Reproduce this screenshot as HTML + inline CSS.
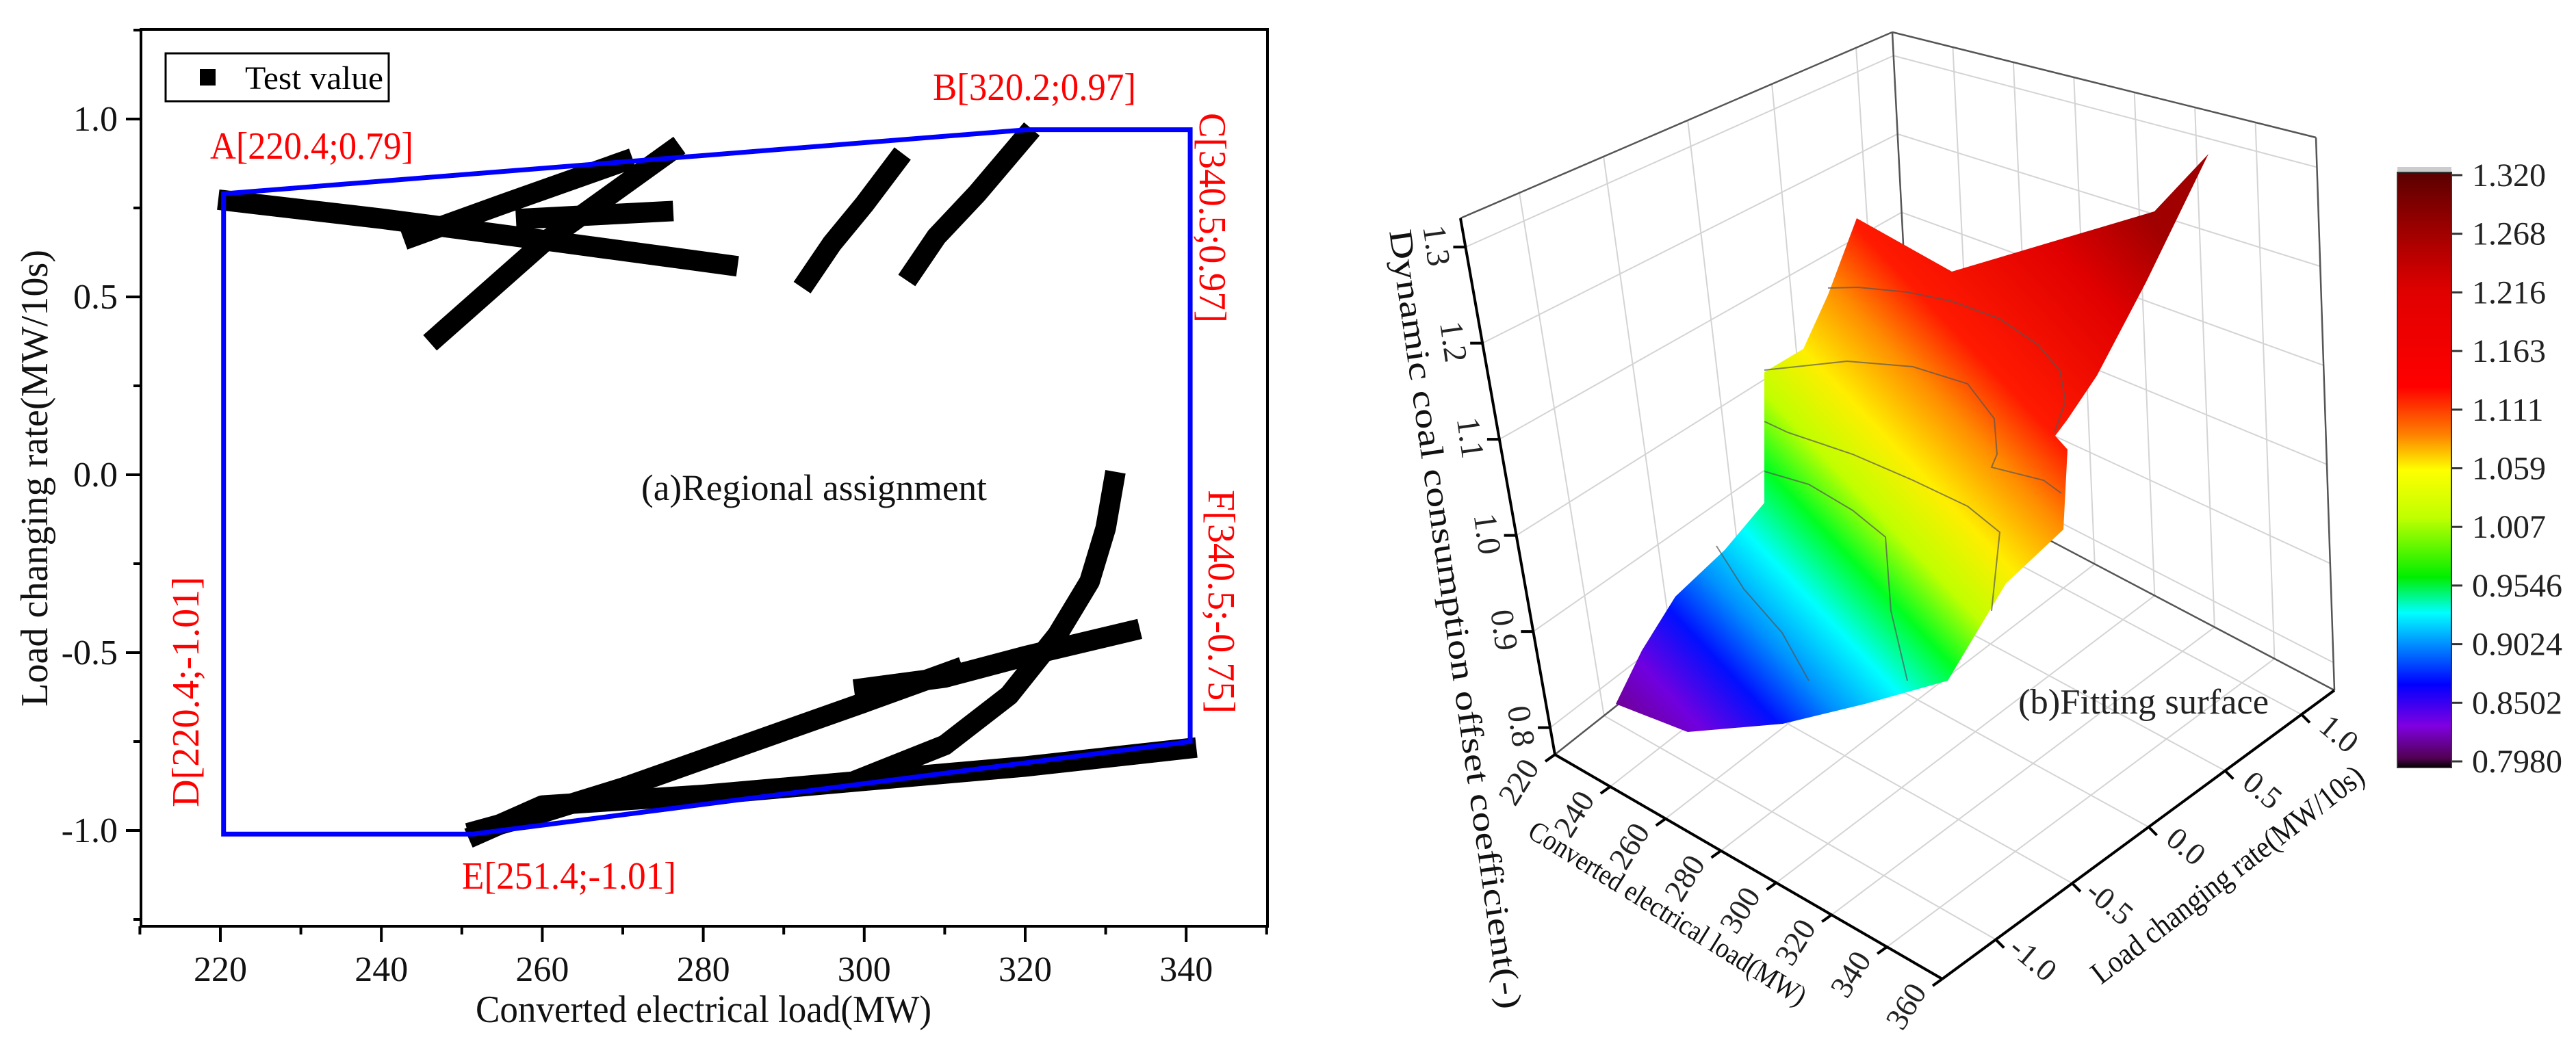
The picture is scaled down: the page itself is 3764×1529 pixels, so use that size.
<!DOCTYPE html>
<html><head><meta charset="utf-8"><style>
html,body{margin:0;padding:0;background:#fff;}
svg{display:block;font-family:"Liberation Serif","DejaVu Serif",serif;}
text{font-family:"Liberation Serif","DejaVu Serif",serif;}
</style></head><body>
<svg id="fig" xmlns="http://www.w3.org/2000/svg" width="3764" height="1529" viewBox="0 0 3764 1529">
<defs>
<linearGradient id="cbar" x1="0" y1="0" x2="0" y2="1">
<stop offset="0" stop-color="#5a0000"/><stop offset="0.1" stop-color="#a00000"/><stop offset="0.2" stop-color="#e00000"/>
<stop offset="0.36" stop-color="#ff0000"/><stop offset="0.44" stop-color="#ff8000"/><stop offset="0.5" stop-color="#ffff00"/>
<stop offset="0.58" stop-color="#c0ff00"/><stop offset="0.68" stop-color="#00ee00"/><stop offset="0.74" stop-color="#00ffff"/>
<stop offset="0.86" stop-color="#0000ff"/><stop offset="0.93" stop-color="#8000e0"/><stop offset="0.985" stop-color="#500050"/><stop offset="1" stop-color="#000"/>
</linearGradient>
<linearGradient id="surf" gradientUnits="userSpaceOnUse" x1="3150" y1="330" x2="2380" y2="1060">
<stop offset="0" stop-color="#a00000"/><stop offset="0.12" stop-color="#e00000"/><stop offset="0.3" stop-color="#ff1a00"/>
<stop offset="0.38" stop-color="#ff8c00"/><stop offset="0.47" stop-color="#ffee00"/><stop offset="0.55" stop-color="#c0ff00"/>
<stop offset="0.62" stop-color="#00ff20"/><stop offset="0.70" stop-color="#00ffff"/><stop offset="0.78" stop-color="#0090ff"/>
<stop offset="0.85" stop-color="#0010ff"/><stop offset="0.93" stop-color="#7000e0"/><stop offset="1" stop-color="#700090"/>
</linearGradient>
</defs>
<g id="left"></g>
<g id="right"></g>
</svg>
<script>
// ---------- Left chart data ----------
const xTicks = [220, 240, 260, 280, 300, 320, 340];
const xMinor = [210, 230, 250, 270, 290, 310, 330, 350];
const yTicks = [-1.0, -0.5, 0.0, 0.5, 1.0];
const yTickLabels = ["-1.0", "-0.5", "0.0", "0.5", "1.0"];
const yMinor = [-1.25, -0.75, -0.25, 0.25, 0.75, 1.25];
const strokeA = [[221,0.77],[240,0.72],[260,0.66],[283,0.59]];
const strokeB = [[244,0.67],[255,0.76],[270,0.88]];
const strokeC = [[247,0.39],[250,0.45],[255,0.55],[260,0.65],[268,0.78],[276,0.91]];
const strokeD = [[258,0.72],[275,0.74]];
const strokeE = [[293,0.55],[296,0.65],[300,0.76],[304,0.88]];
const strokeF = [[306,0.57],[309,0.67],[314,0.79],[320,0.95]];
const strokeG = [[252,-1.00],[260,-0.95],[270,-0.88],[280,-0.80],[290,-0.72],[300,-0.64],[311,-0.55]];
const strokeH = [[300,-0.60],[310,-0.57],[320,-0.51],[333,-0.44]];
const strokeI = [[252,-1.01],[260,-0.93],[280,-0.90],[300,-0.86],[320,-0.82],[340,-0.77]];
const strokeJ = [[300,-0.85],[310,-0.76],[318,-0.62],[324,-0.45],[328,-0.30],[330,-0.15],[331,-0.02]];
const boundary = [[220.4,0.79],[320.2,0.97],[340.5,0.97],[340.5,-0.75],[251.4,-1.01],[220.4,-1.01]];

// ---------- Right chart data ----------
const cbarTicks = ["1.320","1.268","1.216","1.163","1.111","1.059","1.007","0.9546","0.9024","0.8502","0.7980"];
const xTicks3 = [220,240,260,280,300,320,340,360];
const yTicks3 = [-1.0,-0.5,0.0,0.5,1.0];
const yTickLabels3 = ["-1.0","-0.5","0.0","0.5","1.0"];
const zTicks3 = [0.8,0.9,1.0,1.1,1.2,1.3];

const NS = "http://www.w3.org/2000/svg";
const SERIF = '"Liberation Serif","DejaVu Serif",serif';
function mk(tag, attrs, parent){ const e=document.createElementNS(NS,tag); for(const k in attrs) e.setAttribute(k,attrs[k]); if(tag==='text') e.setAttribute('font-family',SERIF); parent.appendChild(e); return e; }

// ===== LEFT =====
const L = document.getElementById('left');
const X = v => 322 + (v-220)*11.76;
const Y = v => 694 - v*520;
let e;
e = mk('rect',{x:206,y:43,width:1646,height:1311,fill:'none',stroke:'#000','stroke-width':4},L);


xTicks.forEach((v,i)=>{
  e = mk('line',{x1:X(v),x2:X(v),y1:1354,y2:1377,stroke:'#000','stroke-width':4},L);
  
  
  e = mk('text',{x:X(v),y:1434,'font-size':52,'text-anchor':'middle',fill:'#111'},L);
  e.textContent = String(v);
  
  
});
xMinor.forEach(v=>{
  e = mk('line',{x1:X(v),x2:X(v),y1:1354,y2:1366,stroke:'#000','stroke-width':4},L);
  
  
});
yTicks.forEach((v,i)=>{
  e = mk('line',{x1:184,x2:206,y1:Y(v),y2:Y(v),stroke:'#000','stroke-width':4},L);
  
  
  e = mk('text',{x:172,y:Y(v)+17,'font-size':52,'text-anchor':'end',fill:'#111'},L);
  e.textContent = yTickLabels[i];
  
  
});
yMinor.forEach(v=>{
  e = mk('line',{x1:195,x2:206,y1:Y(v),y2:Y(v),stroke:'#000','stroke-width':4},L);
  
  
});
e = mk('text',{x:1028,y:1494,'font-size':56,'text-anchor':'middle',fill:'#111',textLength:666,lengthAdjust:'spacingAndGlyphs'},L);
e.textContent='Converted electrical load(MW)';


e = mk('text',{x:0,y:0,'font-size':56,'text-anchor':'middle',fill:'#111',textLength:668,lengthAdjust:'spacingAndGlyphs',transform:'translate(69,699) rotate(-90)'},L);
e.textContent='Load changing rate(MW/10s)';



const strokes = [strokeA,strokeB,strokeC,strokeD,strokeE,strokeF,strokeG,strokeH,strokeI,strokeJ];
strokes.forEach(s=>{
  e = mk('polyline',{points:s.map(p=>X(p[0])+','+Y(p[1])).join(' '),fill:'none',stroke:'#000','stroke-width':30,'stroke-linecap':'square','stroke-linejoin':'round'},L);
  
  
});
e = mk('polygon',{points:boundary.map(p=>X(p[0])+','+Y(p[1])).join(' '),fill:'none',stroke:'#0000ff','stroke-width':7},L);



// legend
e = mk('rect',{x:242,y:78,width:326,height:70,fill:'#fff',stroke:'#000','stroke-width':3},L);


e = mk('rect',{x:292,y:101,width:23,height:24,fill:'#000'},L);


e = mk('text',{x:358,y:130,'font-size':48,fill:'#000',textLength:202,lengthAdjust:'spacingAndGlyphs'},L);
e.textContent='Test value';



// corner labels
function redText(t,attrs){ const r=mk('text',Object.assign({'font-size':56,fill:'#ff0000',lengthAdjust:'spacingAndGlyphs'},attrs),L); r.textContent=t; return r; }
e = redText('A[220.4;0.79]',{x:307,y:232,textLength:297});


e = redText('B[320.2;0.97]',{x:1363,y:146,textLength:297});


e = redText('E[251.4;-1.01]',{x:675,y:1299,textLength:313});


e = redText('C[340.5;0.97]',{x:0,y:0,textLength:307,transform:'translate(1753,165) rotate(90)'});


e = redText('F[340.5;-0.75]',{x:0,y:0,textLength:327,transform:'translate(1766,716) rotate(90)'});


e = redText('D[220.4;-1.01]',{x:0,y:0,textLength:337,transform:'translate(290,1180) rotate(-90)'});


e = mk('text',{x:937,y:731,'font-size':54,fill:'#111',textLength:505,lengthAdjust:'spacingAndGlyphs'},L);
e.textContent='(a)Regional assignment';



// ===== RIGHT =====
const R = document.getElementById('right');
const xD=[220,360], yD=[-1.35,1.215], zD=[0.772,1.33];
const C = {
 '000':[2272,1103],'001':[2134,319],'010':[2798,686],'011':[2765,47],
 '110':[3411,1009],'111':[3384,201],'100':[2838,1431],'101':[2720,630]};
function P(x,y,z){
  const u=(x-xD[0])/(xD[1]-xD[0]), v=(y-yD[0])/(yD[1]-yD[0]), w=(z-zD[0])/(zD[1]-zD[0]);
  let px=0,py=0;
  for(const a of [0,1])for(const b of [0,1])for(const c of [0,1]){
    const k=(a?u:1-u)*(b?v:1-v)*(c?w:1-w); const q=C[''+a+b+c]; px+=k*q[0]; py+=k*q[1];
  }
  return [px,py];
}
function line3(a,b,attrs){ const p=P(...a),q=P(...b); return mk('line',Object.assign({x1:p[0],y1:p[1],x2:q[0],y2:q[1]},attrs),R); }
const grid={stroke:'#d4d4d4','stroke-width':2};
yTicks3.forEach(v=>{ e=line3([220,v,zD[0]],[220,v,zD[1]],grid);
 
  });
zTicks3.forEach(v=>{ e=line3([220,yD[0],v],[220,yD[1],v],grid);
 
 
 e=line3([220,yD[1],v],[360,yD[1],v],grid);
 
  });
xTicks3.forEach(v=>{ e=line3([v,yD[1],zD[0]],[v,yD[1],zD[1]],grid);
 
 
 e=line3([v,yD[0],zD[0]],[v,yD[1],zD[0]],grid);
 
  });
yTicks3.forEach(v=>{ e=line3([220,v,zD[0]],[360,v,zD[0]],grid);
 
  });
const edge={stroke:'#555','stroke-width':2.5};
[[[220,yD[0],zD[1]],[220,yD[1],zD[1]]],[[220,yD[1],zD[1]],[360,yD[1],zD[1]]],[[220,yD[1],zD[0]],[220,yD[1],zD[1]]],
 [[360,yD[1],zD[0]],[360,yD[1],zD[1]]],[[220,yD[1],zD[0]],[360,yD[1],zD[0]]],[[220,yD[0],zD[0]],[220,yD[1],zD[0]]]].forEach(s=>{
 e=line3(s[0],s[1],edge);
 
  });
const ax={stroke:'#000','stroke-width':4};
e=line3([220,yD[0],zD[0]],[220,yD[0],zD[1]],ax);


e=line3([220,yD[0],zD[0]],[360,yD[0],zD[0]],ax);


e=line3([360,yD[0],zD[0]],[360,yD[1],zD[0]],ax);



// surface
const surfaceOutline=[[2361,1029],[2399,951],[2448,872],[2520,804],[2578,735],[2578,544],[2635,510],[2671,431],[2713,319],[2852,397],[3148,309],[3227,225],[3136,412],[3064,549],[3021,613],[3003,637],[3021,657],[3015,774],[2931,853],[2846,995],[2725,1029],[2605,1058],[2466,1070]];
e=mk('polygon',{points:surfaceOutline.map(p=>p.join(',')).join(' '),fill:'url(#surf)',stroke:'none'},R);


const contours=[
 [[2671,421],[2715,420],[2787,427],[2851,440],[2922,466],[2978,504],[3010,542],[3018,587],[3002,632]],
 [[2578,541],[2699,528],[2795,536],[2875,561],[2914,612],[2918,664],[2910,683],[2986,702],[3012,721]],
 [[2578,616],[2612,632],[2707,664],[2795,702],[2875,740],[2922,778],[2910,893]],
 [[2578,689],[2643,708],[2707,746],[2755,785],[2763,893],[2787,995]],
 [[2508,798],[2548,861],[2604,925],[2643,995]]];
contours.forEach(c=>{ e=mk('polyline',{points:c.map(p=>p.join(',')).join(' '),fill:'none',stroke:'#555','stroke-width':2,opacity:0.7},R);
 
  });

// ticks & labels
xTicks3.forEach(v=>{ const p=P(v,yD[0],zD[0]);
 e=mk('line',{x1:p[0],y1:p[1],x2:p[0]-14,y2:p[1]+10,stroke:'#000','stroke-width':4},R);
 
 
 e=mk('text',{x:0,y:0,'font-size':46,'text-anchor':'middle',fill:'#222',transform:`translate(${p[0]-40},${p[1]+48}) rotate(-58)`},R);
 e.textContent=String(v);
 
  });
yTicks3.forEach((v,i)=>{ const p=P(360,v,zD[0]);
 e=mk('line',{x1:p[0],y1:p[1],x2:p[0]+12,y2:p[1]+12,stroke:'#000','stroke-width':4},R);
 
 
 e=mk('text',{x:0,y:0,'font-size':46,'text-anchor':'middle',fill:'#222',transform:`translate(${p[0]+45},${p[1]+40}) rotate(40)`},R);
 e.textContent=yTickLabels3[i];
 
  });
zTicks3.forEach(v=>{ const p=P(220,yD[0],v);
 e=mk('line',{x1:p[0],y1:p[1],x2:p[0]-18,y2:p[1],stroke:'#000','stroke-width':4},R);
 
 
 e=mk('text',{x:0,y:0,'font-size':48,'text-anchor':'middle',fill:'#222',transform:`translate(${p[0]-58},${p[1]}) rotate(82)`},R);
 e.textContent=v.toFixed(1);
 
  });
e=mk('text',{x:0,y:0,'font-size':48,fill:'#111',textLength:1150,lengthAdjust:'spacingAndGlyphs',transform:'translate(2030,338) rotate(81.9)'},R);
e.textContent='Dynamic coal consumption offset coefficient(-)';


e=mk('text',{x:0,y:0,'font-size':42,fill:'#111',textLength:470,lengthAdjust:'spacingAndGlyphs',transform:'translate(2230,1222) rotate(32)'},R);
e.textContent='Converted electrical load(MW)';


e=mk('text',{x:0,y:0,'font-size':46,fill:'#111',textLength:490,lengthAdjust:'spacingAndGlyphs',transform:'translate(3070,1440) rotate(-37.7)'},R);
e.textContent='Load changing rate(MW/10s)';


e=mk('text',{x:2949,y:1043,'font-size':52,fill:'#222',textLength:366,lengthAdjust:'spacingAndGlyphs'},R);
e.textContent='(b)Fitting surface';



// colorbar
e=mk('rect',{x:3503,y:244,width:79,height:8,fill:'#ccc'},R);


e=mk('rect',{x:3503,y:252,width:79,height:870,fill:'url(#cbar)',stroke:'#333','stroke-width':2},R);


cbarTicks.forEach((t,i)=>{ const y=256+i*85.7;
 e=mk('line',{x1:3582,x2:3598,y1:y,y2:y,stroke:'#333','stroke-width':3},R);
 
 
 e=mk('text',{x:3612,y:y+16,'font-size':48,fill:'#222'},R);
 e.textContent=t;
 
  });
</script>
</body></html>
